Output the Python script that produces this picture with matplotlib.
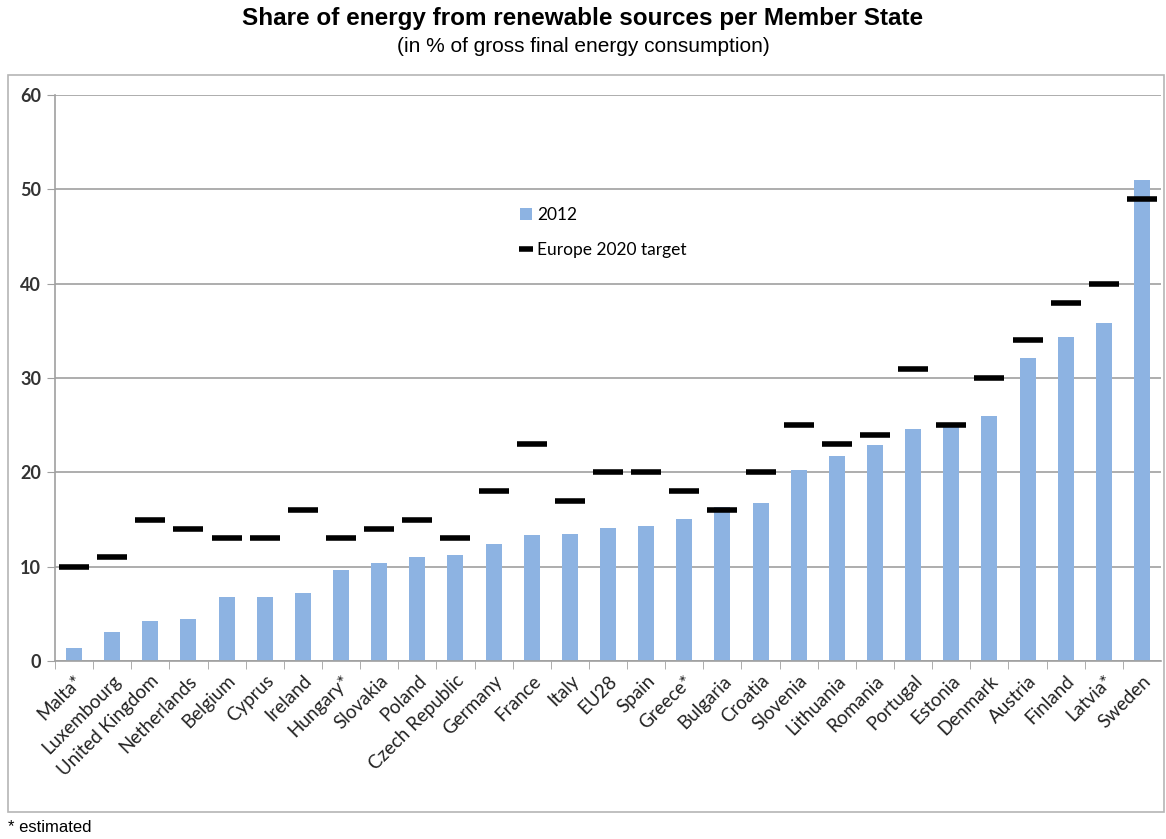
import numpy as np
import matplotlib.pyplot as plt
from matplotlib.patches import Rectangle

countries = ["Malta*", "Luxembourg", "United Kingdom", "Netherlands", "Belgium", "Cyprus",
             "Ireland", "Hungary*", "Slovakia", "Poland", "Czech Republic", "Germany",
             "France", "Italy", "EU28", "Spain", "Greece*", "Bulgaria", "Croatia",
             "Slovenia", "Lithuania", "Romania", "Portugal", "Estonia", "Denmark",
             "Austria", "Finland", "Latvia*", "Sweden"]
share_2012 = [1.4, 3.1, 4.2, 4.5, 6.8, 6.8, 7.2, 9.6, 10.4, 11.0, 11.2, 12.4, 13.4, 13.5,
              14.1, 14.3, 15.1, 16.3, 16.8, 20.2, 21.7, 22.9, 24.6, 25.2, 26.0, 32.1,
              34.3, 35.8, 51.0]
target_2020 = [10, 11, 15, 14, 13, 13, 16, 13, 14, 15, 13, 18, 23, 17, 20, 20, 18, 16, 20,
               25, 23, 24, 31, 25, 30, 34, 38, 40, 49]
y_ticks = [0, 10, 20, 30, 40, 50, 60]

label_font = ['Lato', 'DejaVu Sans']
title_font = ['Liberation Sans', 'DejaVu Sans']

fig = plt.figure(figsize=(11.66, 8.39), dpi=100)

# chart border
fig.patches.append(Rectangle((8 / 1166, 1 - 812 / 839), 1156 / 1166, 737 / 839,
                             transform=fig.transFigure, fill=False,
                             edgecolor='#b5b5b5', linewidth=1.2))

ax = fig.add_axes([55 / 1166, 1 - 661 / 839, 1106 / 1166, 566 / 839])
x = np.arange(len(countries))
bars = ax.bar(x, share_2012, width=0.42, color='#8db3e2', label='2012', zorder=2)
dashes, = ax.plot(x, target_2020, ls='none', marker='_', ms=22, mew=4, color='black',
                  label='Europe 2020 target', zorder=3)

ax.set_xlim(-0.5, len(countries) - 0.5)
ax.set_ylim(0, 60)
ax.set_yticks(y_ticks)
ax.set_yticklabels([str(v) for v in y_ticks], fontfamily=label_font, fontsize=13,
                   fontweight='bold', color='#333333')
ax.yaxis.grid(True, color='#a0a0a0', linewidth=1.2, zorder=0)
ax.set_axisbelow(True)

ax.set_xticks(x - 0.5, minor=True)
ax.set_xticks(x)
ax.set_xticklabels(countries, rotation=45, ha='right', rotation_mode='anchor',
                   fontfamily=label_font, fontsize=13.5, color='#222222')
ax.tick_params(axis='x', which='major', length=0, pad=8)
ax.tick_params(axis='x', which='minor', length=6, color='#a0a0a0')
ax.tick_params(axis='y', length=6, color='#a0a0a0', pad=4)

for side in ['top', 'right']:
    ax.spines[side].set_visible(False)
for side in ['left', 'bottom']:
    ax.spines[side].set_color('#a0a0a0')
    ax.spines[side].set_linewidth(1.2)

ax.legend([bars, dashes], ['2012', 'Europe 2020 target'], loc='upper left',
          bbox_to_anchor=(0.406, 0.83), frameon=False,
          prop={'family': label_font, 'size': 12.5}, handlelength=0.7,
          handletextpad=0.3, labelspacing=1.1, markerscale=0.45)

fig.text(0.5, 1 - 19 / 839, 'Share of energy from renewable sources per Member State',
         ha='center', va='center', fontfamily=title_font, fontsize=17.5, fontweight='bold')
fig.text(0.5, 1 - 46 / 839, '(in % of gross final energy consumption)',
         ha='center', va='center', fontfamily=title_font, fontsize=15)
fig.text(8 / 1166, 1 - 828 / 839, '* estimated', ha='left', va='center',
         fontfamily=['Liberation Sans', 'DejaVu Sans'], fontsize=12)

fig.savefig('out.png', dpi=100)
